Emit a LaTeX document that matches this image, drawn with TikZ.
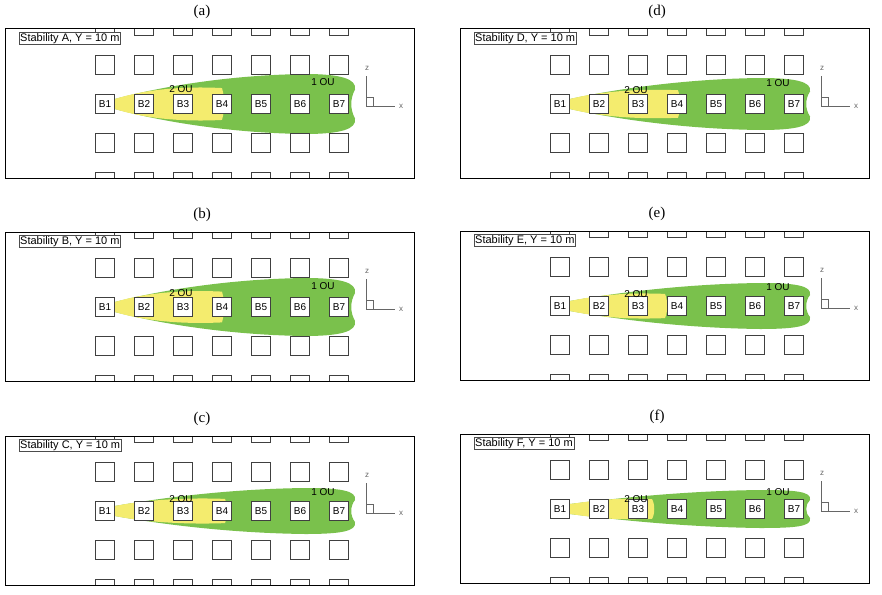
\documentclass[tikz,border=0pt]{standalone}
\usepackage{fontspec}
\setmainfont{Liberation Serif}
\setsansfont{Liberation Sans}
\definecolor{pgreen}{RGB}{122,193,76}
\definecolor{pyellow}{RGB}{244,236,110}
\tikzset{
 bsq/.style={draw=black!75,fill=white,line width=0.6pt,minimum size=19pt,inner sep=0pt,font=\sffamily\fontsize{10}{10}\selectfont},
 frm/.style={draw=black,line width=1pt},
 stab/.style={draw=black!70,fill=white,inner sep=1pt,font=\sffamily\fontsize{11}{11}\selectfont,anchor=north west},
 oul/.style={font=\sffamily\fontsize{10}{10}\selectfont},
 captxt/.style={font=\fontsize{15}{15}\selectfont}
}
\newcommand\panel[7]{%
\begin{scope}[shift={(#1,#2)}]
 \node[captxt] (lab#3) at (197,-17) {(#3)};
 \begin{scope}
  \clip (0,0) rectangle (409,149);
  \fill[pgreen] (110,70) .. controls (150,75-0.55*#5) and (220,75-#5) .. (300,74-#5)
     .. controls (335,74-#5) and (352,70-0.7*#5) .. (350,75-0.5*#5)
     .. controls (345,70) and (345,80) .. (350,75+0.5*#5)
     .. controls (352,80+0.7*#5) and (335,76+#5) .. (300,76+#5)
     .. controls (220,75+#5) and (150,75+0.55*#5) .. (110,80) -- cycle;
  \fill[pyellow] (110,70) .. controls (140,75-0.5*#5) and (#6-40,75-0.62*#5) .. (#6,75-0.55*#5)
     .. controls (#6+3,70) and (#6+3,80) .. (#6,75+0.55*#5)
     .. controls (#6-40,75+0.62*#5) and (140,75+0.5*#5) .. (110,80) -- cycle;
  \foreach \r in {-2,-1,1,2}{\foreach \c in {0,...,6}{
    \node[bsq] (s#3\r\c) at (100+39*\c,75+39*\r) {};}}
  \foreach \c in {1,...,7}{
    \node[bsq] (b#3\c) at (100+39*\c-39,75) {B\c};}
 \end{scope}
 \draw[frm] (0,0) rectangle (409,149);
 \node[stab] (st#3) at (14,3) {Stability #4, Y = 10 m};
 \node[oul] (two#3) at (176,#7) {2 OU};
 \node[oul] (one#3) at (318,#7-7) {1 OU};
 \coordinate (ax#3) at (361,77);
 \coordinate (az#3) at (361,47);
 \coordinate (axx#3) at (390,77);
 \draw[black!60,line width=0.5pt] (az#3) -- (ax#3) -- (axx#3);
 \draw[black!60,line width=0.5pt] (361,68) -| (368,77);
 \node[oul,black!60,font=\sffamily\fontsize{8}{8}\selectfont] (zl#3) at (362,39) {z};
 \node[oul,black!60,font=\sffamily\fontsize{8}{8}\selectfont] (xl#3) at (396,77) {x};
\end{scope}}
\begin{document}
\begin{tikzpicture}[x=1pt,y=-1pt]
\useasboundingbox (0,0) rectangle (882,594);
\panel{5}{29}{a}{A}{29}{217}{60}
\panel{5}{232}{b}{B}{28}{217}{61}
\panel{5}{436}{c}{C}{22}{220}{63}
\panel{460}{29}{d}{D}{25}{218}{61}
\panel{460}{231}{e}{E}{22}{205}{63}
\panel{460}{434}{f}{F}{18}{192}{65}
\end{tikzpicture}
\end{document}
